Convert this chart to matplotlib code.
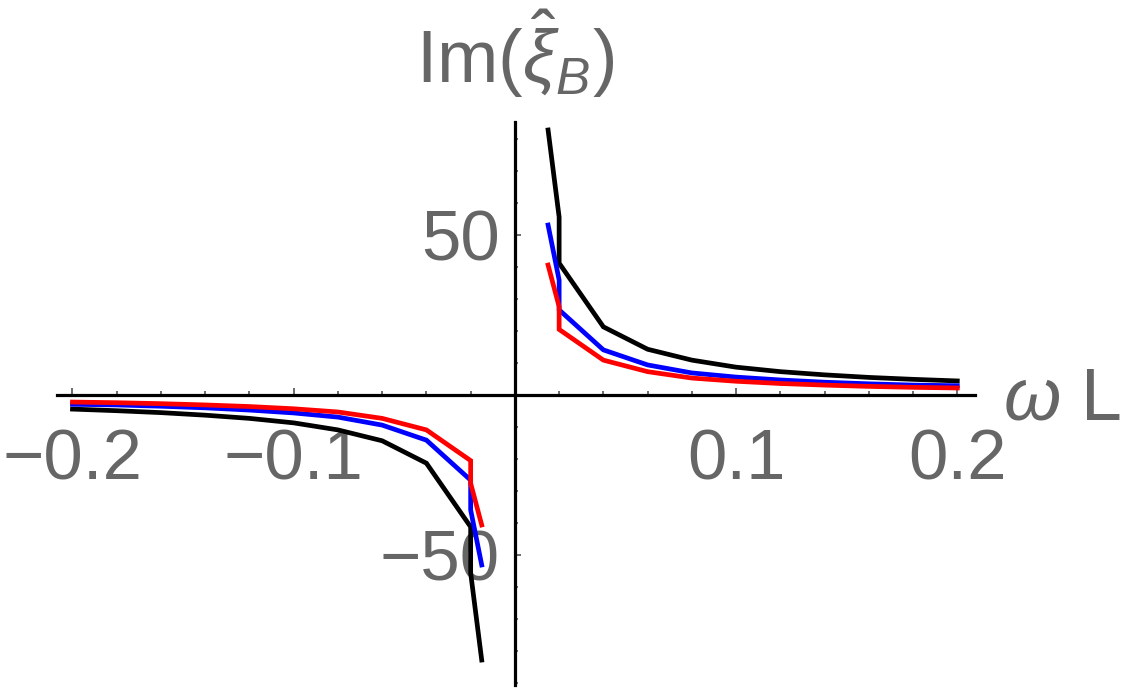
import matplotlib
matplotlib.use("Agg")
import matplotlib.pyplot as plt
from matplotlib.ticker import MultipleLocator

plt.rcParams['font.family'] = ['Liberation Sans', 'DejaVu Sans']
plt.rcParams['mathtext.fontset'] = 'custom'
plt.rcParams['mathtext.rm'] = 'Liberation Sans'
plt.rcParams['mathtext.it'] = 'Liberation Sans:italic'
plt.rcParams['mathtext.bf'] = 'Liberation Sans:bold'

# Data
x_pos = [0.015, 0.02, 0.02, 0.04, 0.06, 0.08, 0.10, 0.12, 0.14, 0.16, 0.18, 0.20]
black_pos = [82.8, 55.6, 41.2, 21.3, 14.3, 10.9, 8.7, 7.3, 6.3, 5.5, 4.9, 4.4]
blue_pos = [53.1, 35.9, 26.6, 14.1, 9.4, 6.9, 5.6, 4.7, 4.0, 3.5, 3.1, 2.9]
red_pos = [40.6, 27.6, 20.5, 10.9, 7.3, 5.3, 4.3, 3.6, 3.1, 2.7, 2.4, 2.2]

x_neg = [-0.015, -0.02, -0.02, -0.04, -0.06, -0.08, -0.10, -0.12, -0.14, -0.16, -0.18, -0.20]
black_neg = [-82.8, -55.6, -41.2, -21.3, -14.3, -10.9, -8.7, -7.3, -6.3, -5.5, -4.9, -4.4]
blue_neg = [-53.1, -35.9, -26.6, -14.1, -9.4, -6.9, -5.6, -4.7, -4.0, -3.5, -3.1, -2.9]
red_neg = [-40.6, -27.6, -20.5, -10.9, -7.3, -5.3, -4.3, -3.6, -3.1, -2.7, -2.4, -2.2]

x_ticks = [-0.2, -0.1, 0.1, 0.2]
x_ticklabels = ['\u22120.2', '\u22120.1', '0.1', '0.2']
y_ticks = [-50, 50]
y_ticklabels = ['\u221250', '50']

W, H = 1125, 692
fig = plt.figure(figsize=(W / 100, H / 100), dpi=100)
left, right, top, bottom = 57, 975, 122, 685
ax = fig.add_axes([left / W, 1 - bottom / H, (right - left) / W, (bottom - top) / H])
ax.set_xlim(-0.207, 0.208)
ax.set_ylim(-90.6, 85.3)

lw = 3.4
for xs, ys, c in [(x_neg, black_neg, 'black'), (x_pos, black_pos, 'black'),
                  (x_neg, blue_neg, '#0000ff'), (x_pos, blue_pos, '#0000ff'),
                  (x_neg, red_neg, '#ff0000'), (x_pos, red_pos, '#ff0000')]:
    ax.plot(xs, ys, color=c, lw=lw, zorder=3, solid_joinstyle='miter')

for s in ['top', 'right']:
    ax.spines[s].set_visible(False)
ax.spines['left'].set_position(('data', 0))
ax.spines['bottom'].set_position(('data', 0))
for s in ['left', 'bottom']:
    ax.spines[s].set_linewidth(2.3)
    ax.spines[s].set_color('black')

ax.set_xticks(x_ticks)
ax.set_xticklabels(x_ticklabels)
ax.set_yticks(y_ticks)
ax.set_yticklabels(y_ticklabels)
ax.xaxis.set_minor_locator(MultipleLocator(0.02))
ax.yaxis.set_minor_locator(MultipleLocator(10))

gray = '#666666'
ax.tick_params(axis='x', which='major', direction='in', length=5, width=1.1,
               color='#444444', labelsize=51, labelcolor=gray, pad=24)
ax.tick_params(axis='x', which='minor', direction='in', length=3, width=1.1, color='#444444')
ax.tick_params(axis='y', which='major', direction='in', length=4, width=1.1,
               color='#444444', labelsize=51, labelcolor=gray, pad=11)
ax.tick_params(axis='y', which='minor', direction='in', length=2.5, width=1.1, color='#444444')

ax.patch.set_visible(False)

fig.text(515 / W, 1 - 83 / H, r'Im$(\hat{\xi}_{B})$', ha='center', va='baseline',
         fontsize=53, color=gray)
fig.text(1003 / W, 1 - 420 / H, r'$\omega$ L', ha='left', va='baseline',
         fontsize=53, color=gray)

fig.savefig('out.png', dpi=100)
